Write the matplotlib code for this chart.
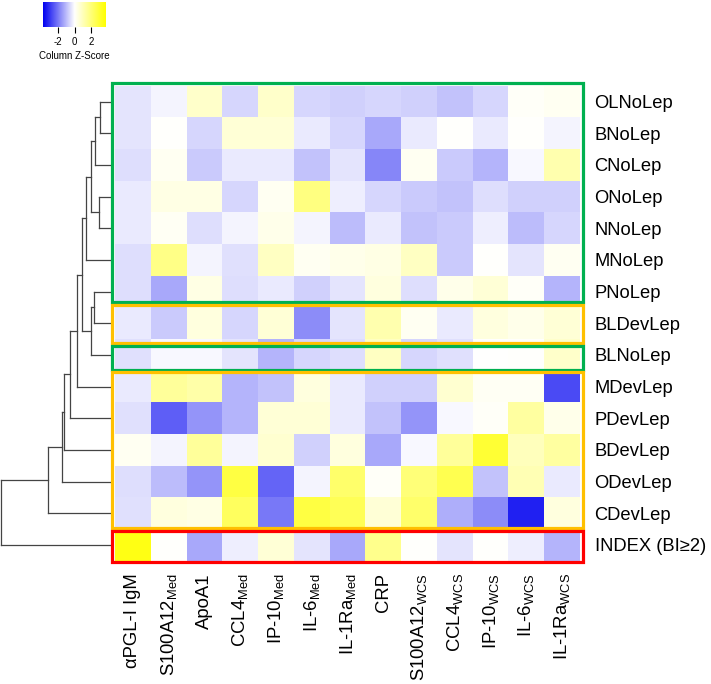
import numpy as np
import matplotlib
matplotlib.use("Agg")
from matplotlib import pyplot as plt
from matplotlib.colors import LinearSegmentedColormap
from matplotlib.patches import Rectangle

plt.rcParams["font.family"] = ["Liberation Sans", "DejaVu Sans"]
plt.rcParams["mathtext.default"] = "regular"

columns = [
    "αPGL-I IgM", "S100A12$_{Med}$", "ApoA1", "CCL4$_{Med}$", "IP-10$_{Med}$",
    "IL-6$_{Med}$", "IL-1Ra$_{Med}$", "CRP", "S100A12$_{WCS}$", "CCL4$_{WCS}$",
    "IP-10$_{WCS}$", "IL-6$_{WCS}$", "IL-1Ra$_{WCS}$",
]
rows = [
    "OLNoLep", "BNoLep", "CNoLep", "ONoLep", "NNoLep", "MNoLep", "PNoLep",
    "BLDevLep", "BLNoLep", "MDevLep", "PDevLep", "BDevLep", "ODevLep",
    "CDevLep", "INDEX (BI≥2)",
]

# column z-scores (rows in dendrogram order)
z = np.array([
    [-0.4, -0.15, 0.8, -0.6, 0.8, -0.6, -0.7, -0.6, -0.7, -0.9, -0.6, 0.1, 0.2],
    [-0.4, 0.05, -0.6, 0.6, 0.6, -0.3, -0.6, -1.3, -0.3, 0.05, -0.3, 0.05, -0.15],
    [-0.5, 0.2, -0.8, -0.3, -0.3, -0.9, -0.4, -1.8, 0.2, -0.8, -1.1, -0.1, 1.2],
    [-0.3, 0.4, 0.4, -0.6, 0.2, 1.9, -0.25, -0.6, -0.8, -0.9, -0.5, -0.7, -0.7],
    [-0.3, 0.15, -0.5, -0.15, 0.3, -0.15, -1.0, -0.3, -0.9, -0.8, -0.25, -1.0, -0.6],
    [-0.5, 1.8, -0.15, -0.45, 0.9, 0.2, 0.3, 0.4, 0.9, -0.8, 0.05, -0.4, 0.2],
    [-0.5, -1.3, 0.4, -0.5, -0.3, -0.7, -0.4, 0.5, -0.5, 0.3, 0.6, 0.1, -1.1],
    [-0.3, -0.8, 0.5, -0.6, 0.6, -1.7, -0.4, 1.2, 0.2, -0.3, 0.5, 0.3, 0.6],
    [-0.45, -0.1, -0.1, -0.4, -1.1, -0.6, -0.5, 0.9, -0.6, -0.45, 0.0, 0.05, 0.8],
    [-0.3, 1.5, 1.3, -1.1, -0.9, 0.5, -0.3, -0.7, -0.7, 0.7, 0.15, 0.15, -2.7],
    [-0.45, -2.4, -1.6, -1.1, 0.6, 0.6, -0.3, -0.9, -1.6, -0.1, 0.1, 1.4, 0.3],
    [0.2, -0.15, 1.5, -0.15, 0.7, -0.7, 0.5, -1.3, -0.1, 1.5, 3.0, 1.0, 1.4],
    [-0.5, -1.0, -1.6, 2.8, -2.3, -0.15, 2.2, 0.1, 2.0, 2.6, -0.9, 1.1, -0.3],
    [-0.45, 0.5, 0.4, 2.4, -2.0, 2.8, 2.5, 0.6, 2.2, -1.2, -1.7, -3.3, 0.5],
    [3.5, 0.05, -1.3, -0.25, 0.6, -0.4, -1.3, 1.7, 0.05, -0.4, 0.05, -0.25, -1.1],
])

# row dendrogram merges: (child a, child b, height); new clusters numbered from 15
merges = [
    (0, 1, 11.0), (3, 4, 11.7), (15, 2, 16.0), (6, 7, 17.0), (17, 16, 20.3),
    (18, 8, 20.3), (19, 5, 25.0), (21, 20, 28.7), (22, 9, 33.7), (23, 10, 41.0),
    (24, 11, 46.7), (25, 12, 48.7), (26, 13, 62.7), (27, 14, 109.3),
]

# highlighted row groups: (top, bottom in row units, colour)
groups = [
    (-0.08, 6.83, "#00B050"),
    (6.92, 8.13, "#FFC000"),
    (8.21, 8.98, "#00B050"),
    (9.04, 13.96, "#FFC000"),
    (14.05, 15.05, "#FF0000"),
]

vlim = 3.8
cmap = LinearSegmentedColormap.from_list("bwy", ["#0000F0", "#FFFFFF", "#FFFF00"])

W, H = 711, 684
fig = plt.figure(figsize=(W / 100, H / 100), dpi=100)

hx0, hx1, hy0, hy1 = 115, 580, 85.7, 560.7
ax = fig.add_axes([hx0 / W, 1 - hy1 / H, (hx1 - hx0) / W, (hy1 - hy0) / H])
ax.pcolormesh(np.arange(len(columns) + 1), np.arange(len(rows) + 1), z,
              cmap=cmap, vmin=-vlim, vmax=vlim)
ax.set_xlim(0, len(columns))
ax.set_ylim(len(rows), 0)
for s in ax.spines.values():
    s.set_visible(False)
ax.set_xticks(np.arange(len(columns)) + 0.5)
ax.set_xticklabels(columns, rotation=90, fontsize=13.3)
ax.yaxis.tick_right()
ax.set_yticks(np.arange(len(rows)) + 0.5)
ax.set_yticklabels(rows, fontsize=13.2)
ax.tick_params(length=0)
ax.tick_params(axis="x", pad=9)
ax.tick_params(axis="y", pad=10.5)

for y0, y1, c in groups:
    ax.add_patch(Rectangle((-0.08, y0), len(columns) + 0.16, y1 - y0, fill=False,
                           edgecolor=c, linewidth=2.3, clip_on=False, zorder=5))

# dendrogram
dax = fig.add_axes([0, 1 - hy1 / H, 111 / W, (hy1 - hy0) / H])
pos = {i: i + 0.5 for i in range(len(rows))}
hgt = {i: 0.0 for i in range(len(rows))}
for k, (a, b, h) in enumerate(merges):
    for c in (a, b):
        dax.plot([hgt[c], h], [pos[c], pos[c]], color="#444444", lw=0.9)
    dax.plot([h, h], [pos[a], pos[b]], color="#444444", lw=0.9)
    nid = len(rows) + k
    pos[nid] = (pos[a] + pos[b]) / 2
    hgt[nid] = h
dax.set_xlim(110.5, 0)
dax.set_ylim(len(rows), 0)
dax.axis("off")

# colour key
kax = fig.add_axes([43.3 / W, 1 - 27.3 / H, 62.7 / W, 25.6 / H])
grad = np.linspace(-vlim, vlim, 256)[None, :]
kax.imshow(grad, cmap=cmap, vmin=-vlim, vmax=vlim, aspect="auto",
           extent=[-vlim, vlim, 0, 1])
kax.set_yticks([])
kax.set_xticks([-2, 0, 2])
kax.set_xticklabels(["-2", "0", "2"], fontsize=7)
kax.tick_params(axis="x", length=4, width=0.8, pad=3)
kax.set_xlabel("Column Z-Score", fontsize=7, labelpad=3)
for s in kax.spines.values():
    s.set_visible(False)

fig.savefig("out.png", dpi=100)
